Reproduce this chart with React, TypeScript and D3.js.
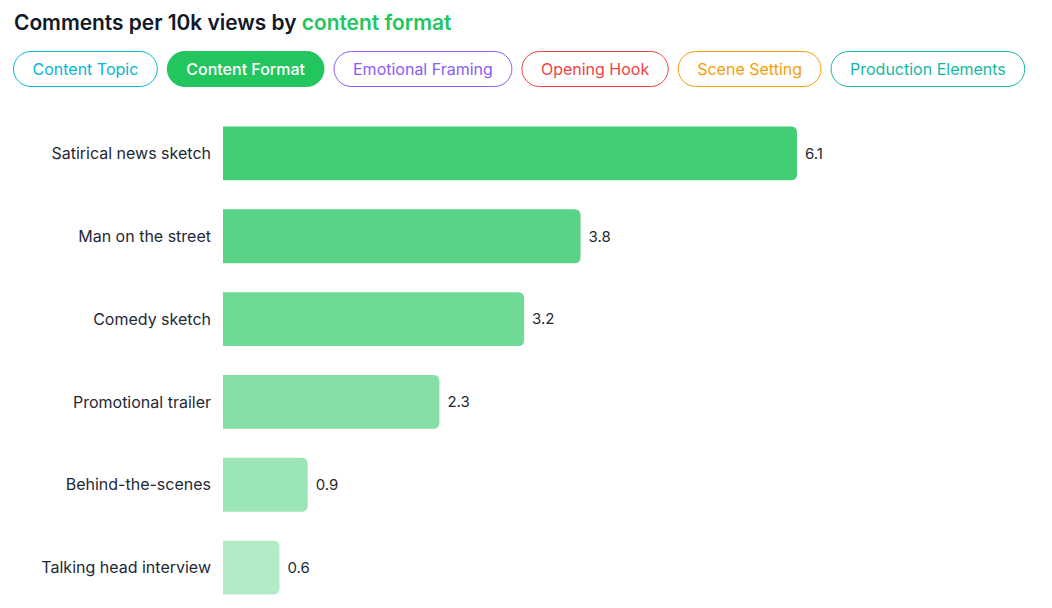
import React, { useMemo } from "react";
import * as d3 from "d3";

const categories = [
  "Satirical news sketch",
  "Man on the street",
  "Comedy sketch",
  "Promotional trailer",
  "Behind-the-scenes",
  "Talking head interview",
];
const values = [6.1, 3.8, 3.2, 2.3, 0.9, 0.6];
const opacities = [0.85, 0.75, 0.65, 0.55, 0.45, 0.35];
const tabs = [
  "Content Topic",
  "Content Format",
  "Emotional Framing",
  "Opening Hook",
  "Scene Setting",
  "Production Elements",
];
const tabColors = ["#06b6d4", "#22c55e", "#8b5cf6", "#ef4444", "#f59e0b", "#14b8a6"];
const activeTab = 1;

const FONT = "Inter, 'Noto Sans', sans-serif";
const W = 1052;
const H = 608;

function measure(text: string, font: string) {
  const c = document.createElement("canvas");
  const ctx = c.getContext("2d")!;
  ctx.font = font;
  return ctx.measureText(text).width;
}

function barPath(x0: number, x1: number, y: number, h: number, r: number) {
  const rr = Math.min(r, (x1 - x0) / 2, h / 2);
  return `M${x0},${y}H${x1 - rr}Q${x1},${y} ${x1},${y + rr}V${y + h - rr}Q${x1},${y + h} ${x1 - rr},${y + h}H${x0}Z`;
}

export default function App() {
  const x = d3.scaleLinear().domain([0, 6.1]).range([223, 797]);
  const y = d3.scaleBand().domain(categories).range([112, 609]).paddingInner(0.35).paddingOuter(0.175);

  const pills = useMemo(() => {
    let cx = 13;
    return tabs.map((t, i) => {
      const tw = measure(t, `${i === activeTab ? 500 : 400} 16px ${FONT}`);
      const w = tw + 39;
      const p = { t, x: cx, w, color: tabColors[i], active: i === activeTab };
      cx += w + 9;
      return p;
    });
  }, []);

  return (
    <svg width={W} height={H} style={{ position: "absolute", left: 0, top: 0, fontFamily: FONT }}>
      <rect width={W} height={H} fill="#fff" />
      <text x={14} y={30} fontSize={20.9} fontWeight={600} fill="#111827">
        Comments per 10k views by <tspan fill="#22c55e">content format</tspan>
      </text>
      {pills.map((p) => (
        <g key={p.t}>
          <rect
            x={p.x + 0.5}
            y={51.5}
            width={p.w - 1}
            height={35}
            rx={17.5}
            fill={p.active ? p.color : "#fff"}
            stroke={p.color}
            strokeWidth={1}
          />
          <text
            x={p.x + p.w / 2}
            y={69}
            dy="0.35em"
            textAnchor="middle"
            fontSize={16}
            fontWeight={p.active ? 500 : 400}
            fill={p.active ? "#fff" : p.color}
          >
            {p.t}
          </text>
        </g>
      ))}
      {categories.map((c, i) => {
        const y0 = y(c)!;
        const h = y.bandwidth();
        const x1 = x(values[i]);
        return (
          <g key={c}>
            <path d={barPath(x(0), x1, y0, h, 6)} fill="#22c55e" fillOpacity={opacities[i]} />
            <text x={211} y={y0 + h / 2} dy="0.35em" textAnchor="end" fontSize={16} fill="#1f2937">
              {c}
            </text>
            <text x={x1 + 8} y={y0 + h / 2} dy="0.35em" fontSize={15} fill="#1f2937">
              {values[i].toFixed(1)}
            </text>
          </g>
        );
      })}
    </svg>
  );
}
